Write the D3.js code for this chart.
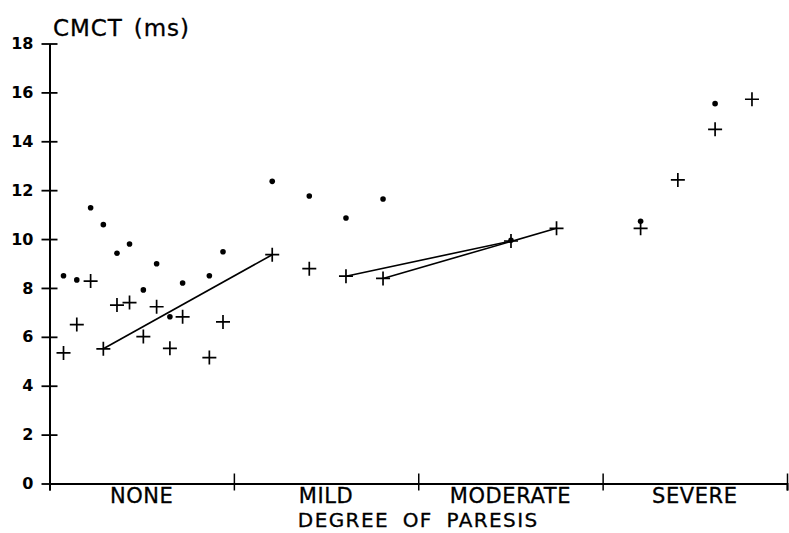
<!DOCTYPE html>
<html>
<head>
<meta charset="utf-8">
<script src="https://cdn.jsdelivr.net/npm/d3@7"></script>
<style>
  body { margin: 0; background: #fff; }
  svg text { font-family: "DejaVu Sans", sans-serif; fill: #000; }
</style>
</head>
<body>
<div id="chart-div"></div>
<script>
// categories along the x axis (each one unit wide)
const categories = ["NONE", "MILD", "MODERATE", "SEVERE"];
const yTicks = [0, 2, 4, 6, 8, 10, 12, 14, 16, 18];

// crosses (+)
const plusX = [0.076, 0.148, 0.223, 0.292, 0.366, 0.434, 0.509, 0.581, 0.653, 0.722, 0.867, 0.941,
               1.208, 1.409, 1.608, 1.809,
               2.503, 2.750,
               3.206, 3.408, 3.610, 3.810];
const plusY = [5.34, 6.50, 8.28, 5.51, 7.30, 7.40, 6.01, 7.23, 5.53, 6.82, 5.15, 6.61,
               9.36, 8.79, 8.48, 8.39,
               9.92, 10.44,
               10.44, 12.42, 14.49, 15.72];

// dots
const dotX = [0.076, 0.148, 0.223, 0.292, 0.366, 0.434, 0.509, 0.581, 0.653, 0.722, 0.867, 0.941,
              1.208, 1.409, 1.608, 1.809,
              2.503,
              3.206, 3.610];
const dotY = [8.50, 8.33, 11.28, 10.59, 9.42, 9.80, 7.92, 8.99, 6.82, 8.20, 8.50, 9.48,
              12.36, 11.76, 10.86, 11.64,
              9.95,
              10.73, 15.54];

// connecting lines between crosses [x1, y1, x2, y2]
const links = [
    [0.292, 5.51, 1.208, 9.36],
    [1.608, 8.48, 2.503, 9.92],
    [1.809, 8.39, 2.750, 10.44]
];

const WIDTH = 789;
const HEIGHT = 533;

let svg = d3.select("#chart-div")
    .append("svg")
    .attr("width", WIDTH)
    .attr("height", HEIGHT);

let xScale = d3.scaleLinear()
    .domain([0, categories.length])
    .range([49.5, 787]);

let yScale = d3.scaleLinear()
    .domain([0, 18])
    .range([483.5, 43.5]);

// Y axis
let yAxis = svg.append("g")
    .attr("transform", "translate(" + xScale(0) + ",0)")
    .call(d3.axisLeft(yScale).tickValues(yTicks).tickSize(8).tickSizeOuter(0).tickPadding(8));
yAxis.select(".domain").attr("stroke-width", 2);
yAxis.selectAll(".tick line").attr("x1", 8).attr("stroke-width", 1.8);
yAxis.selectAll(".tick").filter(d => d === 0).select("line").attr("x1", 0);
yAxis.selectAll(".tick text")
    .style("font-size", "16px")
    .style("font-weight", "bold");

// X axis
let xAxis = svg.append("g")
    .attr("transform", "translate(0," + yScale(0) + ")")
    .call(d3.axisBottom(xScale).tickValues(d3.range(categories.length + 1)).tickFormat("").tickSizeOuter(0).tickSize(7));
xAxis.select(".domain").attr("stroke-width", 2);
xAxis.selectAll(".tick line").attr("y1", -10).attr("stroke-width", 1.5);

// category names
svg.append("g")
    .selectAll("text")
    .data(categories)
    .enter()
    .append("text")
    .attr("x", (d, i) => xScale(i + 0.5))
    .attr("y", 503)
    .attr("text-anchor", "middle")
    .style("font-size", "21px")
    .style("letter-spacing", "0.6px")
    .style("stroke", "#000")
    .style("stroke-width", "0.3px")
    .text(d => d);

// axis titles
svg.append("text")
    .attr("x", xScale(categories.length / 2))
    .attr("y", 527)
    .attr("text-anchor", "middle")
    .style("font-size", "20px")
    .style("letter-spacing", "1.4px")
    .style("word-spacing", "6px")
    .style("stroke", "#000")
    .style("stroke-width", "0.3px")
    .text("DEGREE OF PARESIS");

svg.append("text")
    .attr("x", 53)
    .attr("y", 36)
    .style("font-size", "23px")
    .style("letter-spacing", "0.9px")
    .style("word-spacing", "3px")
    .style("stroke", "#000")
    .style("stroke-width", "0.3px")
    .text("CMCT (ms)");

// connecting lines
svg.append("g")
    .selectAll("line")
    .data(links)
    .enter()
    .append("line")
    .attr("x1", d => xScale(d[0]))
    .attr("y1", d => yScale(d[1]))
    .attr("x2", d => xScale(d[2]))
    .attr("y2", d => yScale(d[3]))
    .attr("stroke", "#000")
    .attr("stroke-width", 1.6);

// dots
svg.append("g")
    .selectAll("circle")
    .data(dotX.map((x, i) => ({ x: x, y: dotY[i] })))
    .enter()
    .append("circle")
    .attr("cx", d => xScale(d.x))
    .attr("cy", d => yScale(d.y))
    .attr("r", 2.8)
    .attr("fill", "#000");

// crosses
const ARM = 7;
svg.append("g")
    .selectAll("path")
    .data(plusX.map((x, i) => ({ x: x, y: plusY[i] })))
    .enter()
    .append("path")
    .attr("d", d => {
        let cx = xScale(d.x), cy = yScale(d.y);
        return "M" + (cx - ARM) + "," + cy + "H" + (cx + ARM) + "M" + cx + "," + (cy - ARM) + "V" + (cy + ARM);
    })
    .attr("stroke", "#000")
    .attr("stroke-width", 1.7)
    .attr("fill", "none");
</script>
</body>
</html>
